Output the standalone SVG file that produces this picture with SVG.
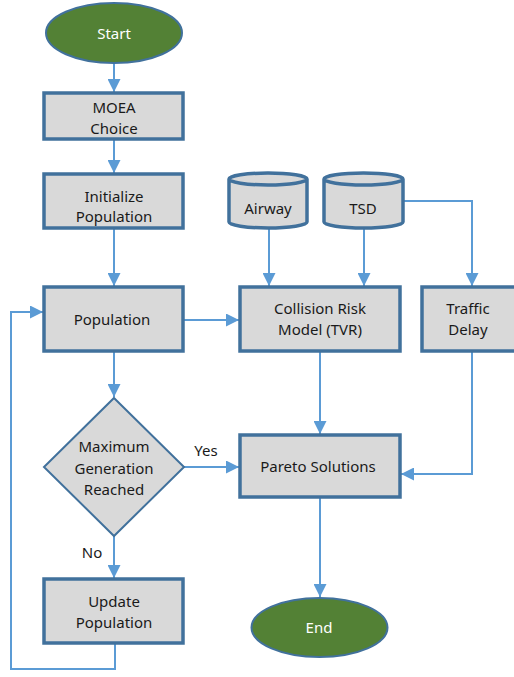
<svg xmlns="http://www.w3.org/2000/svg" width="514" height="677" viewBox="0 0 514 677">
<defs>
<style>
.box{fill:#D9D9D9;stroke:#41719C;stroke-width:3.5}
.dia{fill:#D9D9D9;stroke:#41719C;stroke-width:2}
.term{fill:#538135;stroke:#41719C;stroke-width:2}
.cyl{fill:#D9D9D9;stroke:#41719C;stroke-width:3.5}
.t{font-family:"Noto Sans","Open Sans",sans-serif;font-size:15px;fill:#1a1a1a;text-anchor:middle}
.tw{font-family:"Noto Sans","Open Sans",sans-serif;font-size:15px;fill:#ffffff;text-anchor:middle}
.c{fill:none;stroke:#5B9BD5;stroke-width:2;marker-end:url(#ah)}
</style>
<marker id="ah" markerUnits="userSpaceOnUse" markerWidth="13" markerHeight="13" refX="13" refY="6.5" orient="auto">
<path d="M0,0 L13,6.5 L0,13 z" fill="#5B9BD5"/>
</marker>
</defs>
<rect width="514" height="677" fill="#ffffff"/>
<g id="connectors">
<path class="c" d="M114,63 V92"/>
<path class="c" d="M114,139 V173"/>
<path class="c" d="M114,228 V286"/>
<path class="c" d="M183,320 H239"/>
<path class="c" d="M269,228 V286"/>
<path class="c" d="M364,228 V286"/>
<path class="c" d="M403,201 H472 V286"/>
<path class="c" d="M114,351 V397"/>
<path class="c" d="M184,467 H239"/>
<path class="c" d="M320,351 V434"/>
<path class="c" d="M472,351 V474 H401"/>
<path class="c" d="M320,497 V597"/>
<path class="c" d="M114,536 V578"/>
<path class="c" d="M115,643 V669 H11 V312 H43"/>
</g>
<g id="start"><ellipse class="term" cx="114" cy="33" rx="68" ry="30"/><text class="tw" x="114" y="39">Start</text></g>
<g id="moea"><rect class="box" x="44" y="93" width="139" height="46"/><text class="t" x="114" y="113">MOEA</text><text class="t" x="114" y="134">Choice</text></g>
<g id="init"><rect class="box" x="44" y="174" width="139" height="54"/><text class="t" x="114" y="202">Initialize</text><text class="t" x="114" y="222">Population</text></g>
<g id="airway"><path class="cyl" d="M229,179 V222 A39,6 0 0 0 307,222 V179 A39,6 0 0 0 229,179 Z M229,179 A39,6 0 0 0 307,179"/><text class="t" x="268" y="214">Airway</text></g>
<g id="tsd"><path class="cyl" d="M324,179 V222 A39.5,6 0 0 0 403,222 V179 A39.5,6 0 0 0 324,179 Z M324,179 A39.5,6 0 0 0 403,179"/><text class="t" x="363" y="214">TSD</text></g>
<g id="population"><rect class="box" x="44" y="287" width="139" height="64"/><text class="t" x="112" y="325">Population</text></g>
<g id="collision"><rect class="box" x="240" y="287" width="160" height="64"/><text class="t" x="320" y="314">Collision Risk</text><text class="t" x="320" y="335">Model (TVR)</text></g>
<g id="traffic"><rect class="box" x="422" y="287" width="96" height="64"/><text class="t" x="468" y="314">Traffic</text><text class="t" x="468" y="335">Delay</text></g>
<g id="decision"><path class="dia" d="M114,398 L184,467 L114,536 L44,467 Z"/><text class="t" x="114" y="452">Maximum</text><text class="t" x="114" y="474">Generation</text><text class="t" x="114" y="495">Reached</text></g>
<g id="labels"><text class="t" x="206" y="456">Yes</text><text class="t" x="92" y="558">No</text></g>
<g id="pareto"><rect class="box" x="240" y="435" width="160" height="62"/><text class="t" x="318" y="472">Pareto Solutions</text></g>
<g id="update"><rect class="box" x="44" y="579" width="139" height="64"/><text class="t" x="114" y="607">Update</text><text class="t" x="114" y="628">Population</text></g>
<g id="end"><ellipse class="term" cx="319.5" cy="627.5" rx="68" ry="29.5"/><text class="tw" x="319" y="633">End</text></g>
</svg>
